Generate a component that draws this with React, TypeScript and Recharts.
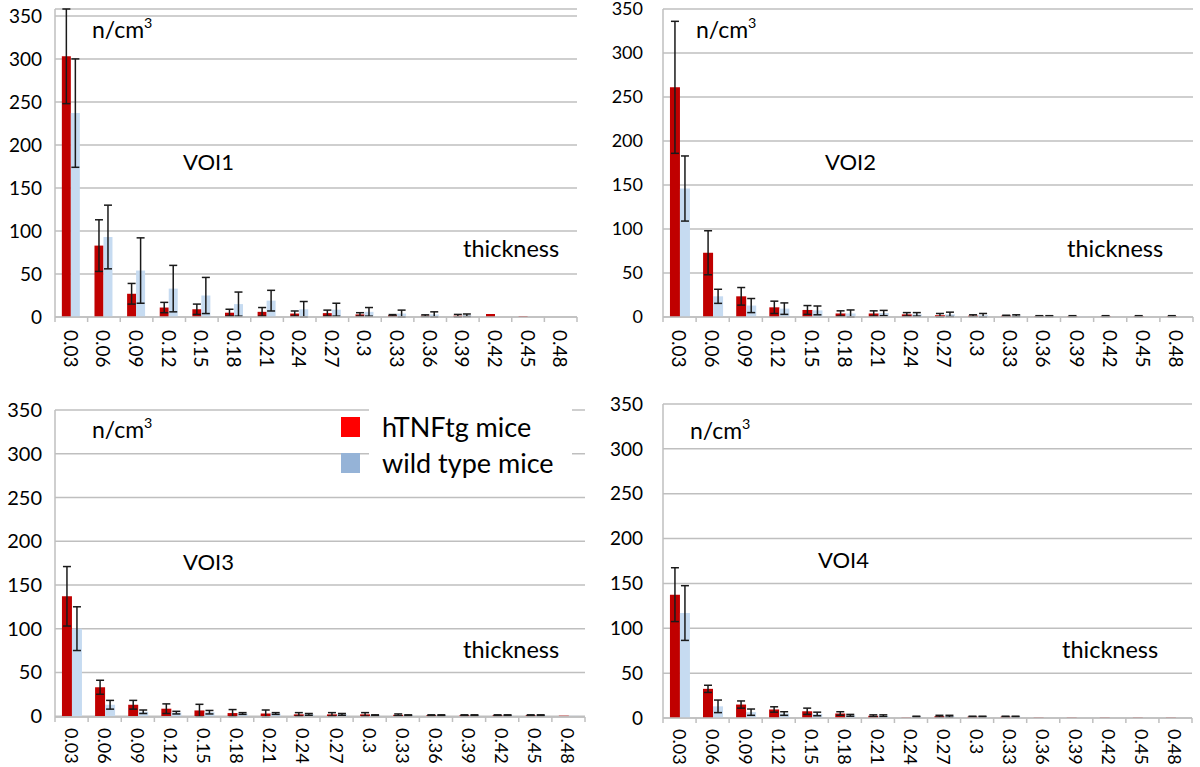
import React from 'react';
import { BarChart, Bar, XAxis, YAxis, CartesianGrid, ErrorBar, Legend, Customized } from 'recharts';

const categories = ['0.03', '0.06', '0.09', '0.12', '0.15', '0.18', '0.21', '0.24', '0.27', '0.3', '0.33', '0.36', '0.39', '0.42', '0.45', '0.48'];
const yTicks = [0, 50, 100, 150, 200, 250, 300, 350];

const voi1Tnf = [303, 83, 27, 11, 9, 5, 6, 4, 4.5, 3, 2, 1.5, 1.5, 3.5, 1, 0];
const voi1TnfErr = [55, 30, 12, 6, 6, 4, 5, 3, 3.5, 2, 0.8, 1, 1.5, 0, 0, 0];
const voi1Wt = [237, 93, 54, 33, 25, 15, 19, 9, 8.5, 6, 4, 3, 2, 0, 0, 0];
const voi1WtErr = [63, 37, 38, 27, 21, 14, 12, 9, 7.5, 5, 4, 3, 1.5, 0, 0, 0];

const voi2Tnf = [261, 73, 23.5, 11, 8, 4, 4, 3, 2, 1.5, 1.5, 1, 1, 1, 1, 1];
const voi2TnfErr = [75, 25, 10, 7, 5, 3, 3, 2, 2, 1, 0.5, 0.5, 0.5, 0.5, 0.5, 0.5];
const voi2Wt = [146, 23.5, 13, 9.5, 7.5, 4, 4.5, 3, 3, 2, 1.5, 1, 0.5, 0, 0, 0];
const voi2WtErr = [37, 8, 8, 6.5, 5, 4, 3, 2, 2.5, 2, 1, 0.5, 0, 0, 0, 0];

const voi3Tnf = [137, 33, 13, 8.5, 6.5, 3.5, 3, 2, 2, 2, 1.5, 1, 1, 1, 1, 0.5];
const voi3TnfErr = [34, 8, 5, 5.5, 7, 4, 4, 2, 2, 2, 1, 0.5, 0.5, 0.5, 0.5, 0];
const voi3Wt = [100, 13, 5, 4, 4.5, 3, 3, 2, 2, 1, 1, 1, 1, 1, 1, 0.3];
const voi3WtErr = [25, 5, 2, 1.5, 2, 1, 1, 1, 1, 0.5, 0.5, 0.5, 0.5, 0.5, 0.5, 0];

const voi4Tnf = [137.5, 32.5, 15, 9.5, 7.5, 5, 2.5, 0.5, 2, 1.5, 1.5, 0.5, 0.5, 0.5, 0.5, 0.5];
const voi4TnfErr = [30, 4, 4, 3, 3.5, 2, 1, 0, 1, 0.5, 0.5, 0, 0, 0, 0, 0];
const voi4Wt = [117, 13, 6.5, 5, 4.5, 3, 2.5, 1.5, 2, 1.5, 1.5, 0, 0, 0, 0, 0];
const voi4WtErr = [30.5, 7, 3.5, 2, 2, 1, 1, 0.5, 1, 0.5, 0.5, 0, 0, 0, 0, 0];

const seriesNames = ['hTNFtg mice', 'wild type mice'];

const RED = '#C00000';
const BLUE = '#C6DBF1';
const LEGEND_RED = '#FF0000';
const LEGEND_BLUE = '#95B3D7';
const GRID = '#BFBFBF';

function buildRows(tnf: number[], tnfErr: number[], wt: number[], wtErr: number[]) {
  return categories.map((cat, i) => ({
    cat,
    tnf: tnf[i],
    tnfErr: tnfErr[i],
    wt: wt[i],
    wtErr: wtErr[i],
  }));
}

function makeXTick(fontSize: number, gap: number) {
  return (props: any) => {
    const { x, y, payload, index } = props;
    const off = payload && typeof payload.offset === 'number' ? payload.offset : 0;
    const ty = y + gap;
    return (
      <g>
        <line x1={x - off} x2={x - off} y1={y} y2={y + 5} stroke={GRID} strokeWidth={1.5} />
        {index === categories.length - 1 ? (
          <line x1={x + off} x2={x + off} y1={y} y2={y + 5} stroke={GRID} strokeWidth={1.5} />
        ) : null}
        <text
          x={x}
          y={ty}
          transform={`rotate(90, ${x}, ${ty})`}
          textAnchor="start"
          dominantBaseline="central"
          fontSize={fontSize}
          fill="#000"
        >
          {payload.value}
        </text>
      </g>
    );
  };
}

type Note = { text: string; sup?: string; x: number; y: number; size: number };

function LegendBox() {
  return (
    <svg width={240} height={80} style={{ display: 'block' }}>
      <rect x={28} y={0} width={203} height={76} fill="#fff" />
      <rect x={0} y={13} width={19} height={20} fill={LEGEND_RED} />
      <rect x={0} y={49} width={19} height={20} fill={LEGEND_BLUE} />
      <text x={41} y={33} fontSize={27} fill="#000" fontFamily="Lato">{seriesNames[0]}</text>
      <text x={41} y={69} fontSize={27} fill="#000" fontFamily="Lato">{seriesNames[1]}</text>
    </svg>
  );
}

type PanelProps = {
  left: number;
  top: number;
  width: number;
  height: number;
  margin: { top: number; right: number; left: number; bottom: number };
  yAxisWidth: number;
  yTickGap: number;
  yFont: number;
  xAxisHeight: number;
  xFont: number;
  xGap: number;
  rows: any[];
  notes: Note[];
  showLegend?: boolean;
  legendTop?: number;
};

function Panel(p: PanelProps) {
  const Notes = () => (
    <g>
      {p.notes.map((n, i) => (
        <text key={i} x={n.x} y={n.y} fontSize={n.size} fill="#000" fontFamily="Lato">
          {n.text}
          {n.sup ? (
            <tspan fontSize={n.size * 0.62} dy={-n.size * 0.42}>
              {n.sup}
            </tspan>
          ) : null}
        </text>
      ))}
    </g>
  );
  return (
    <div style={{ position: 'absolute', left: p.left, top: p.top, width: p.width, height: p.height }}>
      <BarChart
        width={p.width}
        height={p.height}
        data={p.rows}
        margin={p.margin}
        barCategoryGap="21%"
        barGap={0}
      >
        <CartesianGrid vertical={false} stroke={GRID} strokeWidth={1.5} />
        <XAxis
          dataKey="cat"
          interval={0}
          height={p.xAxisHeight}
          tickSize={0}
          tickMargin={0}
          axisLine={{ stroke: GRID, strokeWidth: 1.5 }}
          tickLine={false}
          tick={makeXTick(p.xFont, p.xGap)}
        />
        <YAxis
          width={p.yAxisWidth}
          domain={[0, 350]}
          ticks={yTicks}
          interval={0}
          tickLine={false}
          tickSize={0}
          tickMargin={p.yTickGap}
          axisLine={{ stroke: GRID, strokeWidth: 1.5 }}
          tick={{ fill: '#000', fontSize: p.yFont, fontFamily: 'Lato' }}
        />
        <Bar dataKey="tnf" name={seriesNames[0]} fill={RED} isAnimationActive={false}>
          <ErrorBar dataKey="tnfErr" width={4} stroke="#1A1A1A" strokeWidth={1.5} direction="y" />
        </Bar>
        <Bar dataKey="wt" name={seriesNames[1]} fill={BLUE} isAnimationActive={false}>
          <ErrorBar dataKey="wtErr" width={4} stroke="#1A1A1A" strokeWidth={1.5} direction="y" />
        </Bar>
        {p.showLegend ? (
          <Legend
            layout="vertical"
            align="center"
            verticalAlign="middle"
            wrapperStyle={{ position: 'absolute', left: 341, top: p.legendTop ?? 4, width: 240, height: 80 }}
            content={() => <LegendBox />}
          />
        ) : null}
        <Customized component={Notes} />
      </BarChart>
    </div>
  );
}

export default function App() {
  const rows1 = buildRows(voi1Tnf, voi1TnfErr, voi1Wt, voi1WtErr);
  const rows2 = buildRows(voi2Tnf, voi2TnfErr, voi2Wt, voi2WtErr);
  const rows3 = buildRows(voi3Tnf, voi3TnfErr, voi3Wt, voi3WtErr);
  const rows4 = buildRows(voi4Tnf, voi4TnfErr, voi4Wt, voi4WtErr);
  return (
    <div
      style={{
        position: 'absolute',
        left: 0,
        top: 0,
        width: 1200,
        height: 767,
        overflow: 'hidden',
        background: '#fff',
        fontFamily: 'Lato',
      }}
    >
      <Panel
        left={0}
        top={0}
        width={590}
        height={390}
        margin={{ top: 9, right: 13, left: 0, bottom: 0 }}
        yAxisWidth={55}
        yTickGap={13}
        yFont={19}
        xAxisHeight={73}
        xFont={19}
        xGap={13}
        rows={rows1}
        notes={[
          { text: 'n/cm', sup: '3', x: 92, y: 38, size: 23 },
          { text: 'VOI1', x: 183, y: 170, size: 22 },
          { text: 'thickness', x: 463, y: 257, size: 23.5 },
        ]}
      />
      <Panel
        left={600}
        top={0}
        width={600}
        height={390}
        margin={{ top: 9, right: 7, left: 0, bottom: 0 }}
        yAxisWidth={63}
        yTickGap={20}
        yFont={18}
        xAxisHeight={73}
        xFont={19}
        xGap={13}
        rows={rows2}
        notes={[
          { text: 'n/cm', sup: '3', x: 96, y: 38, size: 23 },
          { text: 'VOI2', x: 225, y: 170, size: 22 },
          { text: 'thickness', x: 467, y: 257, size: 23.5 },
        ]}
      />
      <Panel
        left={0}
        top={390}
        width={600}
        height={377}
        margin={{ top: 20, right: 15, left: 0, bottom: 0 }}
        yAxisWidth={55}
        yTickGap={13}
        yFont={20}
        xAxisHeight={50}
        xFont={18}
        xGap={11}
        rows={rows3}
        showLegend
        legendTop={14}
        notes={[
          { text: 'n/cm', sup: '3', x: 92, y: 48, size: 23 },
          { text: 'VOI3', x: 183, y: 180, size: 22 },
          { text: 'thickness', x: 463, y: 268, size: 23.5 },
        ]}
      />
      <Panel
        left={600}
        top={390}
        width={600}
        height={377}
        margin={{ top: 14, right: 8, left: 0, bottom: 0 }}
        yAxisWidth={63}
        yTickGap={20}
        yFont={19}
        xAxisHeight={49}
        xFont={18}
        xGap={11}
        rows={rows4}
        notes={[
          { text: 'n/cm', sup: '3', x: 90, y: 49, size: 23 },
          { text: 'VOI4', x: 218, y: 178, size: 22 },
          { text: 'thickness', x: 462, y: 268, size: 23.5 },
        ]}
      />
    </div>
  );
}
